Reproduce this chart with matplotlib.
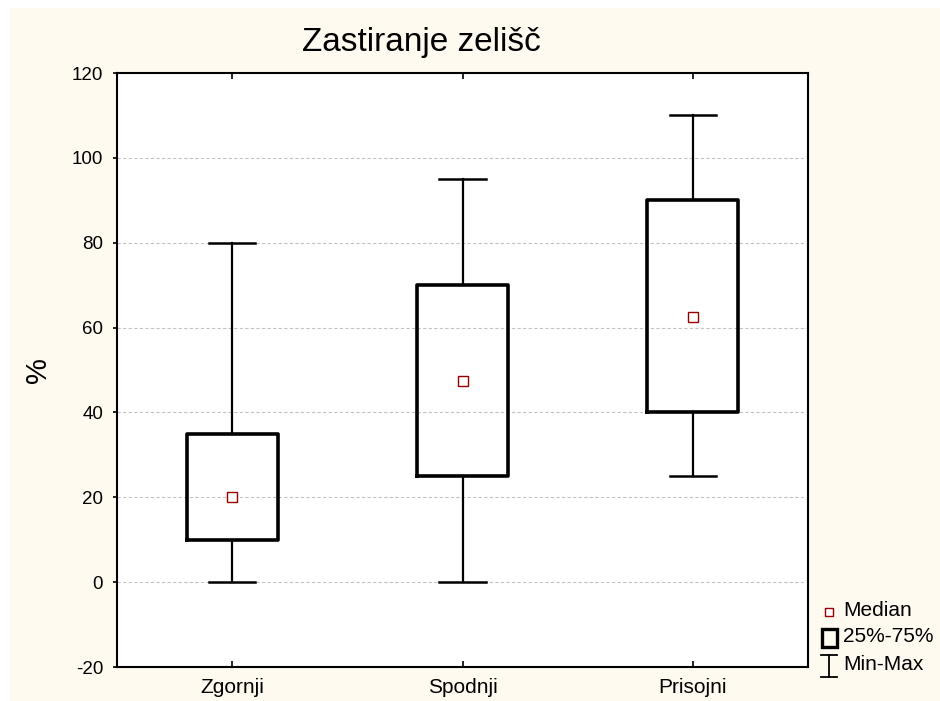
import matplotlib
matplotlib.use("Agg")
import matplotlib.pyplot as plt
from matplotlib.patches import Rectangle
from matplotlib.lines import Line2D

plt.rcParams['font.family'] = ['Liberation Sans', 'DejaVu Sans']

categories = ["Zgornji", "Spodnji", "Prisojni"]
mins = [0, 0, 25]
q1s = [10, 25, 40]
medians = [20, 47.5, 62.5]
q3s = [35, 70, 90]
maxs = [80, 95, 110]
yticks = [-20, 0, 20, 40, 60, 80, 100, 120]

W, H = 940, 701
fig = plt.figure(figsize=(W / 100, H / 100), dpi=100)
fig.patch.set_facecolor('white')
# cream panel
fig.patches.append(Rectangle((10 / W, 0), 1, (H - 8) / H, transform=fig.transFigure,
                             facecolor='#FFFAF0', edgecolor='none', zorder=-10))

ax = fig.add_axes([117 / W, (H - 667) / H, 691 / W, 594 / H])
ax.set_facecolor('white')

stats = []
for c, lo, a, m, b, hi in zip(categories, mins, q1s, medians, q3s, maxs):
    stats.append(dict(label=c, whislo=lo, q1=a, med=m, q3=b, whishi=hi, fliers=[]))

pos = list(range(1, len(categories) + 1))
ax.bxp(stats, positions=pos, widths=0.395, capwidths=0.2, showfliers=False,
       boxprops=dict(color='black', linewidth=2.6),
       whiskerprops=dict(color='black', linewidth=1.6),
       capprops=dict(color='black', linewidth=1.8),
       medianprops=dict(visible=False), zorder=3)
ax.plot(pos, medians, linestyle='none', marker='s', markersize=7,
        markerfacecolor='white', markeredgecolor='#990000', markeredgewidth=1.0, zorder=4)

ax.set_xlim(0.5, 3.5)
ax.set_ylim(-20, 120)
ax.set_yticks(yticks)
ax.set_yticklabels([str(v) for v in yticks], fontsize=13.5)
ax.set_xticks(pos)
ax.set_xticklabels(categories, fontsize=15)
ax.tick_params(axis='x', direction='in', top=True, length=4, width=1.2, pad=8)
ax.tick_params(axis='y', direction='out', length=3, width=1.2, pad=7)

for v in yticks:
    if -20 < v < 120:
        ax.axhline(v, color='#C4C4C4', linestyle=(0, (3, 2)), linewidth=0.8, zorder=1)

for s in ax.spines.values():
    s.set_linewidth(1.5)
    s.set_color('black')

fig.text(38 / W, 1 - 370 / H, '%', fontsize=21, rotation=90, ha='center', va='center')
fig.text(421 / W, 1 - 42 / H, 'Zastiranje zelišč', fontsize=24, ha='center', va='center')

# legend (manual)
def fx(x):
    return x / W

def fy(y):
    return 1 - y / H

fig.add_artist(Line2D([fx(829)], [fy(612)], marker='s', markersize=6, markerfacecolor='white',
                      markeredgecolor='#990000', markeredgewidth=1.0, linestyle='none',
                      transform=fig.transFigure))
fig.text(fx(843), fy(611), 'Median', fontsize=15, va='center', ha='left')
fig.add_artist(Rectangle((fx(822), fy(647)), 15 / W, 18 / H, transform=fig.transFigure,
                         facecolor='none', edgecolor='black', linewidth=2.4))
fig.text(fx(843), fy(637), '25%-75%', fontsize=15, va='center', ha='left')
fig.add_artist(Line2D([fx(829), fx(829)], [fy(655), fy(677)], color='black', linewidth=1.3,
                      transform=fig.transFigure))
fig.add_artist(Line2D([fx(821), fx(837)], [fy(655), fy(655)], color='black', linewidth=1.3,
                      transform=fig.transFigure))
fig.add_artist(Line2D([fx(821), fx(837)], [fy(677), fy(677)], color='black', linewidth=1.3,
                      transform=fig.transFigure))
fig.text(fx(843), fy(665), 'Min-Max', fontsize=15, va='center', ha='left')

fig.savefig('out.png', dpi=100)
